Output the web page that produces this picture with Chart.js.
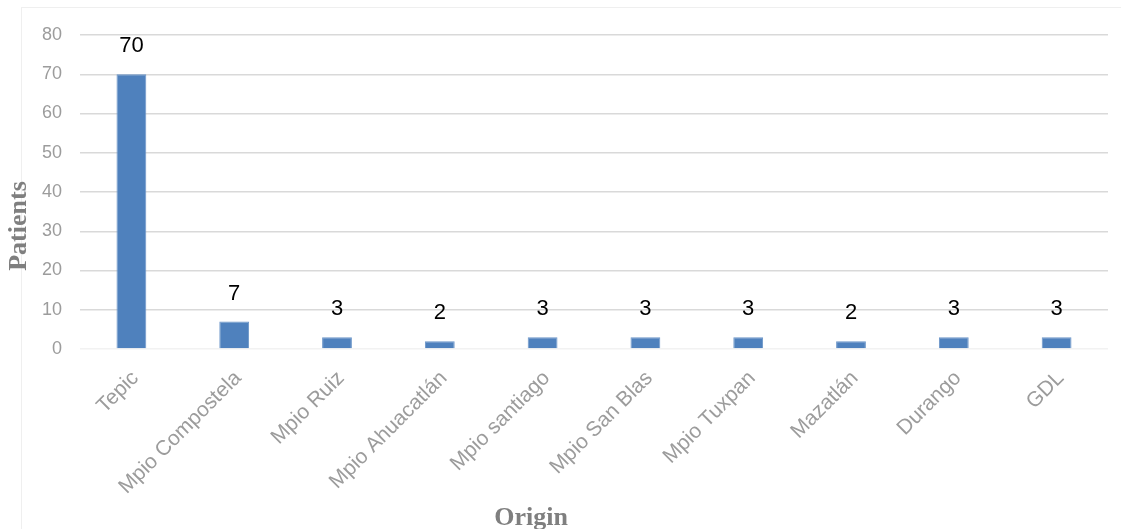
<!DOCTYPE html>
<html>
<head>
<meta charset="utf-8">
<script src="https://cdn.jsdelivr.net/npm/chart.js@4/dist/chart.umd.min.js"></script>
<style>
  html, body { margin: 0; padding: 0; background: #ffffff; }
  #wrap { width: 1121px; height: 529px; position: relative; }
</style>
</head>
<body>
<div id="wrap"><canvas id="chart" width="1121" height="529"></canvas></div>
<script>
// Patients by place of origin
const categories = ['Tepic', 'Mpio Compostela', 'Mpio Ruiz', 'Mpio Ahuacatlán', 'Mpio santiago',
                    'Mpio San Blas', 'Mpio Tuxpan', 'Mazatlán', 'Durango', 'GDL'];
const patients = [70, 7, 3, 2, 3, 3, 3, 2, 3, 3];
const yTicks = [0, 10, 20, 30, 40, 50, 60, 70, 80];

const yTitle = 'Patients';
const xTitle = 'Origin';

const titleFont = 'bold 26px "Liberation Serif", "Times New Roman", serif';
const titleColor = '#7f7f7f';

// Light frame around the whole figure
const framePlugin = {
  id: 'frame',
  beforeDraw(chart) {
    const ctx = chart.ctx;
    ctx.save();
    ctx.fillStyle = '#ffffff';
    ctx.fillRect(0, 0, chart.width, chart.height);
    ctx.strokeStyle = '#efefef';
    ctx.lineWidth = 1;
    ctx.strokeRect(21.5, 7.5, chart.width + 10, chart.height + 10);
    ctx.restore();
  }
};

// Value labels above each bar
const valueLabels = {
  id: 'valueLabels',
  afterDatasetsDraw(chart) {
    const ctx = chart.ctx;
    const meta = chart.getDatasetMeta(0);
    const data = chart.data.datasets[0].data;
    ctx.save();
    ctx.font = '22px "Liberation Sans", Arial, sans-serif';
    ctx.fillStyle = '#000000';
    ctx.textAlign = 'center';
    ctx.textBaseline = 'bottom';
    meta.data.forEach((bar, i) => {
      ctx.fillText(String(data[i]), bar.x, bar.y - 17);
    });
    ctx.restore();
  }
};

// Axis titles
const axisTitles = {
  id: 'axisTitles',
  afterDraw(chart) {
    const ctx = chart.ctx;
    ctx.save();
    ctx.font = titleFont;
    ctx.fillStyle = titleColor;
    ctx.textAlign = 'center';
    ctx.textBaseline = 'alphabetic';
    ctx.fillText(xTitle, 531, 525);
    ctx.translate(19, 226);
    ctx.rotate(-Math.PI / 2);
    ctx.textBaseline = 'middle';
    ctx.fillText(yTitle, 0, 0);
    ctx.restore();
  }
};

new Chart(document.getElementById('chart'), {
  type: 'bar',
  data: {
    labels: categories,
    datasets: [{
      data: patients,
      backgroundColor: '#4f81bd',
      borderColor: '#6b95c8',
      borderWidth: 1,
      barPercentage: 0.29,
      categoryPercentage: 1.0
    }]
  },
  options: {
    responsive: false,
    animation: false,
    layout: { padding: { top: 35, right: 13, left: 0, bottom: 0 } },
    plugins: {
      legend: { display: false },
      tooltip: { enabled: false }
    },
    scales: {
      x: {
        grid: { display: false, drawTicks: false },
        border: { display: false },
        ticks: {
          color: '#9c9c9c',
          font: { family: '"Liberation Sans", Arial, sans-serif', size: 21 },
          minRotation: 45,
          maxRotation: 45,
          padding: 17,
          labelOffset: 4,
          autoSkip: false
        },
        afterFit(scale) { scale.height = 180; }
      },
      y: {
        min: 0,
        max: 80,
        afterBuildTicks(scale) { scale.ticks = yTicks.map(v => ({ value: v })); },
        grid: {
          drawTicks: false,
          lineWidth: 1.5,
          color: (c) => (c.tick && c.tick.value === 0) ? '#f2f2f2' : '#d9d9d9'
        },
        border: { display: false },
        ticks: {
          color: '#9c9c9c',
          font: { family: '"Liberation Sans", Arial, sans-serif', size: 18 },
          padding: 18
        },
        afterFit(scale) { scale.width = 80; }
      }
    }
  },
  plugins: [framePlugin, valueLabels, axisTitles]
});
</script>
</body>
</html>
